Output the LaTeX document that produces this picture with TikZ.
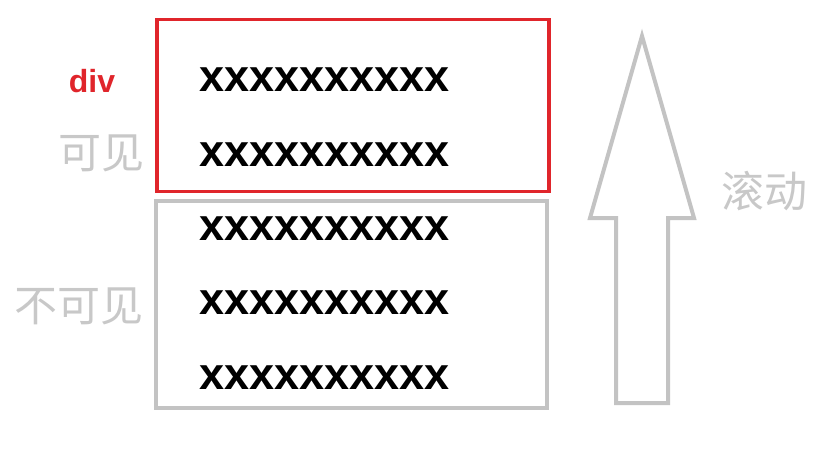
\documentclass[tikz,border=0pt]{standalone}
\usepackage{fontspec}
\setmainfont{Liberation Sans}
\newfontfamily\cjk{Noto Sans CJK SC}
\definecolor{boxred}{RGB}{224,37,43}
\definecolor{boxgray}{RGB}{195,195,195}
\definecolor{txtgray}{RGB}{200,200,200}
\begin{document}
\begin{tikzpicture}[x=1pt,y=-1pt,
  row/.style={font=\fontsize{45}{45}\selectfont\bfseries, text=black, inner sep=0pt},
  cjklabel/.style={font=\cjk\fontsize{43}{43}\selectfont, text=txtgray, inner sep=0pt},
]
\useasboundingbox (0,0) rectangle (837,464);
\draw[boxgray, line width=4pt] (156,201) rectangle (547,408);
\draw[boxred, line width=3.5pt] (157,19.5) rectangle (549,191.5);
\node[row] (r1) at (324.5,80) {xxxxxxxxxx};
\node[row] (r2) at (324.5,155) {xxxxxxxxxx};
\node[row] (r3) at (324.5,229) {xxxxxxxxxx};
\node[row] (r4) at (324.5,303) {xxxxxxxxxx};
\node[row] (r5) at (324.5,378) {xxxxxxxxxx};
\node[font=\fontsize{32}{32}\selectfont\bfseries, text=boxred, inner sep=0pt] (div) at (92,81) {div};
\node[cjklabel] (vis) at (101,153) {可见};
\node[cjklabel] (invis) at (78.5,306) {不可见};
\node[cjklabel] (scroll) at (764,191) {滚动};
\draw[boxgray, line width=4pt, line join=miter] (642,36) -- (694,218) -- (668,218) -- (668,403) -- (616,403) -- (616,218) -- (590,218) -- cycle;
\end{tikzpicture}
\end{document}
